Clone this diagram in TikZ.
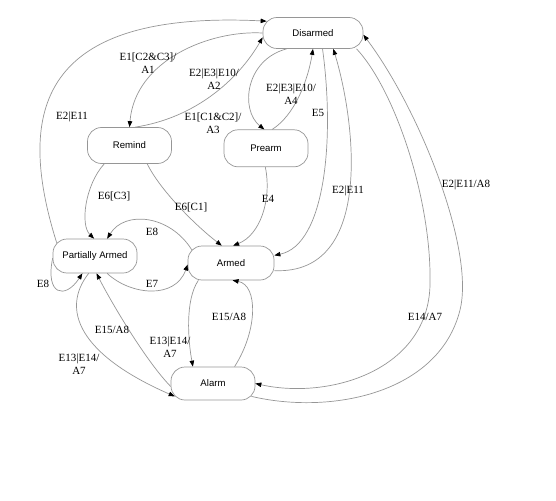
\documentclass[tikz,border=0pt]{standalone}
\usepackage{fontspec}
\setmainfont{Liberation Serif}
\setsansfont{Liberation Sans}
\usepackage{tikz}
\usetikzlibrary{arrows.meta}
\definecolor{linegray}{RGB}{150,150,150}

\begin{document}
\begin{tikzpicture}[
    x=1pt, y=-1pt,
    box/.style={draw=linegray, line width=0.7pt, rounded corners=14pt, minimum width=84pt, minimum height=34pt, inner sep=0pt, font=\fontsize{9.6}{11}\sffamily},
    lbl/.style={font=\fontsize{11}{12.5}\selectfont, align=center, inner sep=0pt},
    arrow/.style={draw=linegray, line width=0.7pt, -{Triangle[length=6pt, width=4.5pt, color=black]}}
]
    \useasboundingbox (0,0) rectangle (556,500);

    \node[box, minimum width=100pt, minimum height=31pt] (dis) at (313,33) {Disarmed};
    \node[box, minimum height=36pt] (rem) at (129.5,145.5) {Remind};
    \node[box, minimum height=37pt] (pre) at (266,148.3) {Prearm};
    \node[box] (pa) at (95,256) {Partially Armed};
    \node[box, minimum width=86pt] (arm) at (231,263) {Armed};
    \node[box, minimum height=33pt] (ala) at (213,383.5) {Alarm};

    \draw[arrow] ([xshift=4pt,yshift=-4pt]pa.north west) .. controls (15,110) and (40,10) .. ([xshift=4pt,yshift=-4pt]dis.north west) node[lbl] at (72,117) {E2|E11};
    \draw[arrow] (dis.west) .. controls (210,30) and (135,60) .. (rem.north) node[lbl] at (148,63) {E1[C2\&C3]/\\A1};
    \draw[arrow] (rem.73) .. controls (195,118) and (238,80) .. (dis.185) node[lbl] at (214,79) {E2|E3|E10/\\A2};
    \draw[arrow] (dis.211) .. controls (245,60) and (240,110) .. (pre.95) node[lbl] at (213,123) {E1[C1\&C2]/\\A3};
    \draw[arrow] (pre.72) .. controls (295,115) and (308,80) .. (dis.south) node[lbl] at (291,94) {E2|E3|E10/\\A4};
    \draw[arrow] (dis.301) .. controls (335,140) and (325,245) .. (arm.10) node[lbl] at (318,113) {E5};
    \draw[arrow] (arm.350) .. controls (375,275) and (355,120) .. (dis.322) node[lbl] at (348,191) {E2|E11};
    \draw[arrow] (dis.340) .. controls (395,90) and (432,200) .. (430,285) .. controls (428,370) and (330,400) .. (ala.east) node[lbl] at (425,317) {E14/A7};
    \draw[arrow] ([xshift=-4pt,yshift=4pt]ala.south east) .. controls (330,415) and (439,394) .. (460,310) .. controls (475,250) and (420,110) .. (dis.358) node[lbl] at (466,185) {E2|E11/A8};

    \draw[arrow] (rem.216) .. controls (85,185) and (80,225) .. (pa.93) node[lbl] at (114,196) {E6[C3]};
    \draw[arrow] (rem.314) .. controls (160,190) and (195,225) .. (arm.118) node[lbl] at (191,207) {E6[C1]};
    \draw[arrow] (pre.268) .. controls (272,200) and (260,235) .. (arm.83) node[lbl] at (268,199) {E4};
    \draw[arrow] ([xshift=4pt,yshift=-4pt]arm.north west) .. controls (170,215) and (125,210) .. (pa.55) node[lbl] at (152,232) {E8};
    \draw[arrow] (pa.305) .. controls (130,295) and (175,300) .. (arm.182) node[lbl] at (152,284) {E7};
    \draw[arrow] (pa.183) .. controls (45,295) and (65,300) .. (pa.234) node[lbl] at (43,284) {E8};

    \draw[arrow] (arm.208) .. controls (185,300) and (188,340) .. (ala.140) node[lbl] at (170,347) {E13|E14/\\A7};
    \draw[arrow] (ala.38) .. controls (258,330) and (258,285) .. (arm.275) node[lbl] at (229,317) {E15/A8};
    \draw[arrow] (ala.184) .. controls (145,360) and (110,300) .. (pa.275) node[lbl] at (112,330) {E15/A8};
    \draw[arrow] (pa.250) .. controls (60,310) and (80,355) .. ([xshift=4pt,yshift=4pt]ala.south west) node[lbl] at (79,364) {E13|E14/\\A7};
\end{tikzpicture}
\end{document}
